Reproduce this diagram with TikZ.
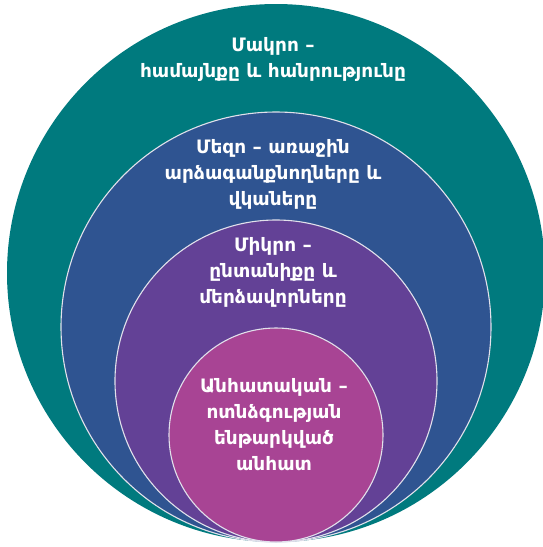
\documentclass[tikz,border=0pt]{standalone}
\usepackage{fontspec}
\newfontfamily\armfont{DejaVu Sans}[BoldFont={DejaVu Sans Bold}]
\definecolor{cteal}{RGB}{0,122,126}
\definecolor{cblue}{RGB}{47,84,145}
\definecolor{cpurple}{RGB}{99,65,150}
\definecolor{cmag}{RGB}{168,68,148}
\definecolor{cedge}{RGB}{225,225,235}
\tikzset{
  ring/.style={circle, inner sep=0pt, draw=cedge, line width=1.1pt},
  lab/.style={text=white, align=center, inner sep=0pt,
    font=\armfont\bfseries\fontsize{18.5}{26}\selectfont}
}
\begin{document}
\begin{tikzpicture}[x=1pt,y=-1pt]
\useasboundingbox (0,0) rectangle (543,547);
\clip (0,0) rectangle (543,547);
\node[circle, inner sep=0pt, fill=cteal, minimum size=538pt] (macro) at (276,273) {};
\node[ring, fill=cblue, minimum size=430pt] (meso) at (276,327) {};
\node[ring, fill=cpurple, minimum size=322pt] (micro) at (276,381) {};
\node[ring, fill=cmag, minimum size=214pt] (indiv) at (276,435) {};
\node[lab] (tmacro) at (273,59.5) {Մակրո –\\համայնքը և հանրությունը};
\node[lab] (tmeso) at (273,174.5) {Մեզո – առաջին\\արձագանքնողները և\\վկաները};
\node[lab] (tmicro) at (273,272) {Միկրո –\\ընտանիքը և\\մերձավորները};
\node[lab] (tindiv) at (274,425) {Անհատական –\\ոտնձգության\\ենթարկված\\անհատ};
\end{tikzpicture}
\end{document}
